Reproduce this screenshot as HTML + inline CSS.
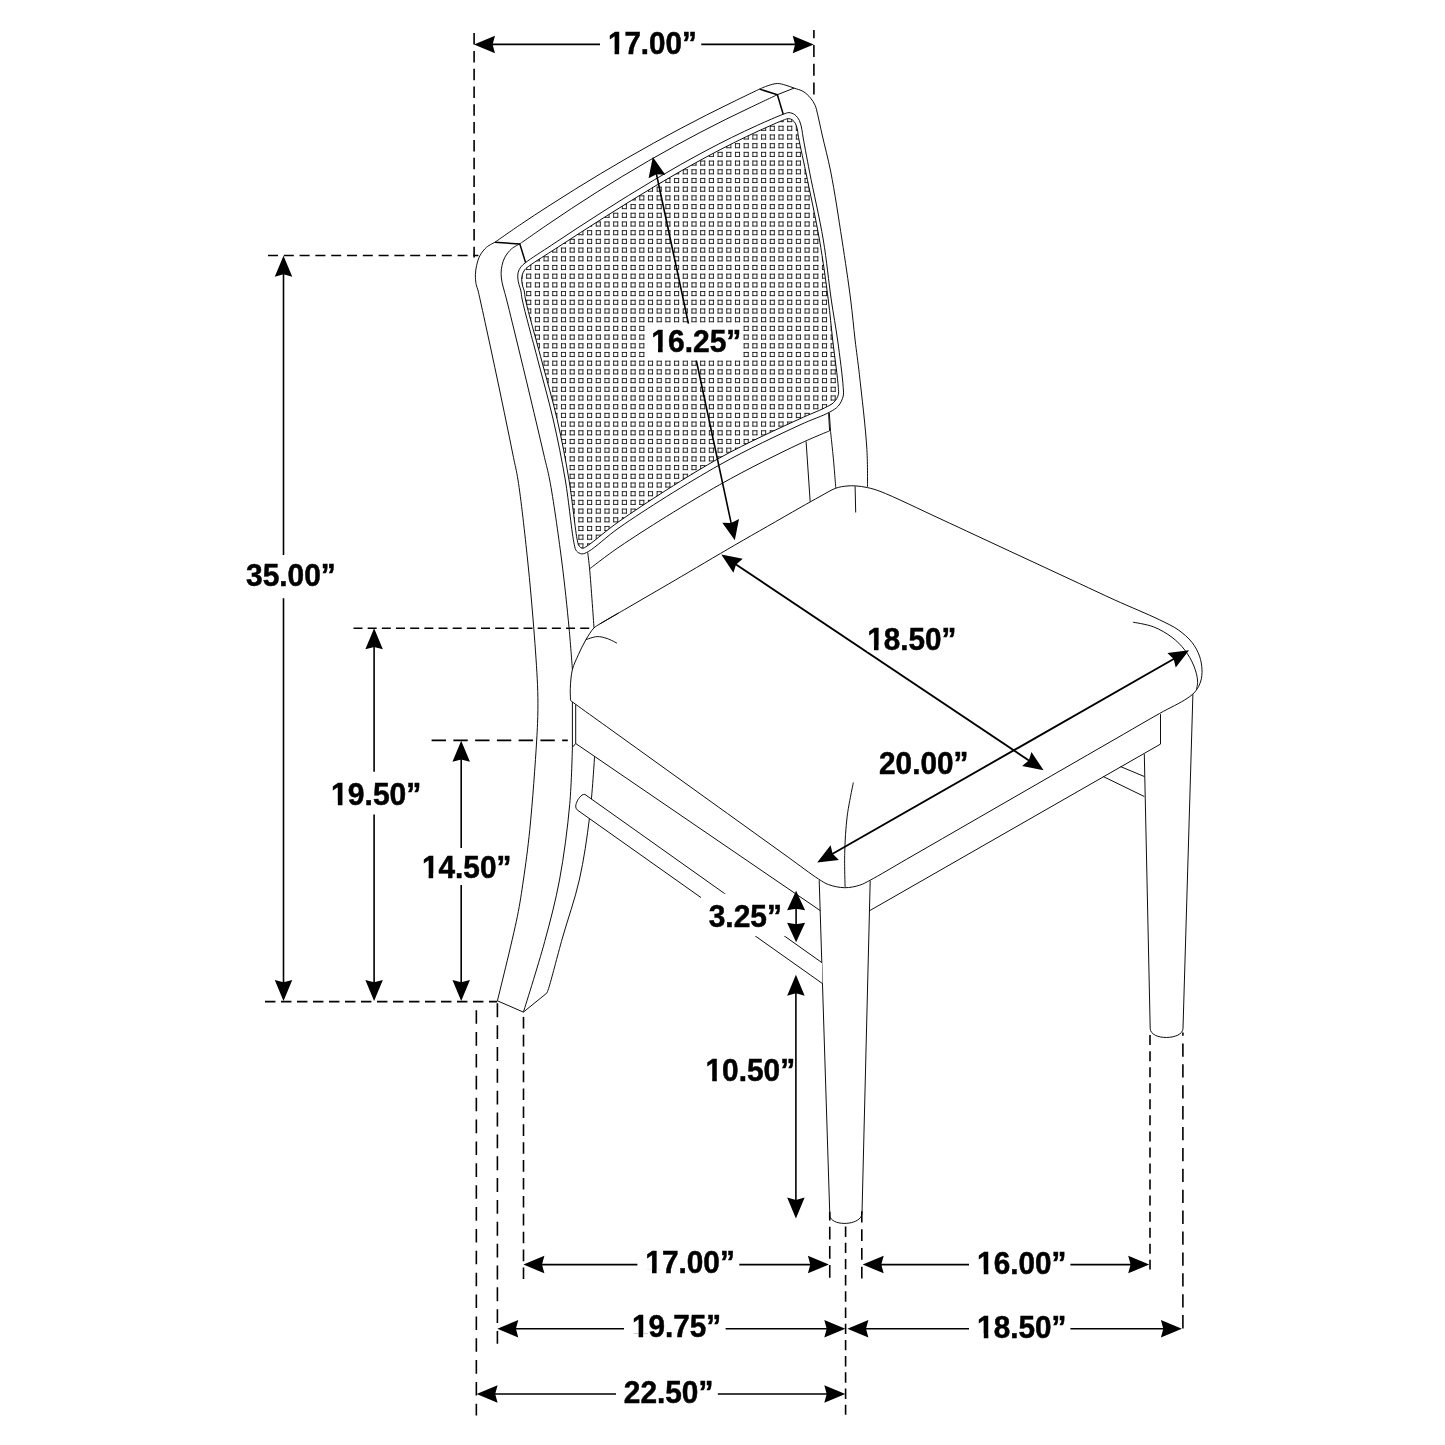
<!DOCTYPE html>
<html><head><meta charset="utf-8"><title>Chair dimensions</title>
<style>html,body{margin:0;padding:0;background:#fff}svg{display:block;will-change:transform}text{font-family:"Liberation Sans",sans-serif;font-weight:bold;fill:#000;stroke:#000;stroke-width:0.5px}</style>
</head><body>
<svg width="1445" height="1445" viewBox="0 0 1445 1445">
<defs>
<clipPath id="caneclip"><path d="M522.7,286.3 C523.06,287.73 523.61,288.44 524,290 C524.63,292.5 524.6,295.3 525.6,300 C528.07,311.63 536.22,340 541.5,360 C546.78,380 552.7,399.93 557.3,420 C561.86,439.93 565.65,459.89 569,480 C572.35,500.15 575.36,531.8 577.4,540.8 C578,543.43 578.08,544.52 579,545.8 C579.82,546.95 581.12,548.19 582.4,548.3 C583.87,548.43 585.1,547.24 587.4,545.8 C593.63,541.9 605.88,530.63 620,520.8 C643.91,504.14 687.8,475.68 719.7,457.9 C747.48,442.42 780.86,427.57 800,418.7 C810.49,413.84 818.43,411.09 824.6,407.9 C828.52,405.87 831.57,404.66 833.9,402.3 C835.98,400.19 837.59,397.4 838.3,394.8 C838.96,392.39 838.51,390.87 838.3,387.3 C837.77,378.31 834.43,355.11 832.7,340 C831.11,326.11 830.18,314.66 828.3,300 C825.99,282 823.08,260.57 819.5,240 C815.67,218.02 809.74,191.33 805.8,172.1 C802.89,157.87 799.04,140.95 798.1,135 C797.81,133.14 797.98,132.74 797.7,131.3 C797.3,129.22 796.66,125.82 795.6,123.8 C794.74,122.15 793.58,120.67 792.3,119.8 C791.17,119.04 789.79,118.62 788.5,118.6 C787.19,118.58 786.38,119.04 784.5,119.7 C779.65,121.41 767.48,126.88 759.03,130.72 C750.5,134.6 742.02,138.68 733.56,142.88 C725.04,147.12 716.55,151.53 708.09,156.04 C699.57,160.59 691.08,165.3 682.62,170.08 C674.1,174.9 665.62,179.85 657.15,184.87 C648.64,189.92 640.15,195.07 631.68,200.28 C623.17,205.5 614.69,210.82 606.21,216.17 C597.71,221.54 589.22,226.97 580.74,232.42 C572.24,237.88 563.76,243.39 555.27,248.9 C546.78,254.42 534.95,261.68 529.8,265.5 C527.42,267.27 526.07,268.09 524.8,269.7 C523.63,271.19 522.81,273 522.3,274.7 C521.82,276.3 521.68,277.84 521.7,279.6 C521.73,281.66 522.23,284.41 522.7,286.3Z"/></clipPath>
</defs>
<rect width="1445" height="1445" fill="#fff"/>
<g clip-path="url(#caneclip)" fill="none" stroke="#151515" stroke-width="0.88">
<path stroke-dasharray="4.98 3.72" d="M508.81,100.15H861.79M508.81,104.25H861.79M508.81,108.85H861.79M508.81,112.95H861.79M508.81,117.55H861.79M508.81,121.65H861.79M508.81,126.25H861.79M508.81,130.35H861.79M508.81,134.95H861.79M508.81,139.05H861.79M508.81,143.65H861.79M508.81,147.75H861.79M508.81,152.35H861.79M508.81,156.45H861.79M508.81,161.05H861.79M508.81,165.15H861.79M508.81,169.75H861.79M508.81,173.85H861.79M508.81,178.45H861.79M508.81,182.55H861.79M508.81,187.15H861.79M508.81,191.25H861.79M508.81,195.85H861.79M508.81,199.95H861.79M508.81,204.55H861.79M508.81,208.65H861.79M508.81,213.25H861.79M508.81,217.35H861.79M508.81,221.95H861.79M508.81,226.05H861.79M508.81,230.65H861.79M508.81,234.75H861.79M508.81,239.35H861.79M508.81,243.45H861.79M508.81,248.05H861.79M508.81,252.15H861.79M508.81,256.75H861.79M508.81,260.85H861.79M508.81,265.45H861.79M508.81,269.55H861.79M508.81,274.15H861.79M508.81,278.25H861.79M508.81,282.85H861.79M508.81,286.95H861.79M508.81,291.55H861.79M508.81,295.65H861.79M508.81,300.25H861.79M508.81,304.35H861.79M508.81,308.95H861.79M508.81,313.05H861.79M508.81,317.65H861.79M508.81,321.75H861.79M508.81,326.35H861.79M508.81,330.45H861.79M508.81,335.05H861.79M508.81,339.15H861.79M508.81,343.75H861.79M508.81,347.85H861.79M508.81,352.45H861.79M508.81,356.55H861.79M508.81,361.15H861.79M508.81,365.25H861.79M508.81,369.85H861.79M508.81,373.95H861.79M508.81,378.55H861.79M508.81,382.65H861.79M508.81,387.25H861.79M508.81,391.35H861.79M508.81,395.95H861.79M508.81,400.05H861.79M508.81,404.65H861.79M508.81,408.75H861.79M508.81,413.35H861.79M508.81,417.45H861.79M508.81,422.05H861.79M508.81,426.15H861.79M508.81,430.75H861.79M508.81,434.85H861.79M508.81,439.45H861.79M508.81,443.55H861.79M508.81,448.15H861.79M508.81,452.25H861.79M508.81,456.85H861.79M508.81,460.95H861.79M508.81,465.55H861.79M508.81,469.65H861.79M508.81,474.25H861.79M508.81,478.35H861.79M508.81,482.95H861.79M508.81,487.05H861.79M508.81,491.65H861.79M508.81,495.75H861.79M508.81,500.35H861.79M508.81,504.45H861.79M508.81,509.05H861.79M508.81,513.15H861.79M508.81,517.75H861.79M508.81,521.85H861.79M508.81,526.45H861.79M508.81,530.55H861.79M508.81,535.15H861.79M508.81,539.25H861.79M508.81,543.85H861.79M508.81,547.95H861.79M508.81,552.55H861.79M508.81,556.65H861.79M508.81,561.25H861.79M508.81,565.35H861.79M508.81,569.95H861.79M508.81,574.05H861.79M508.81,578.65H861.79M508.81,582.75H861.79"/>
<path stroke-dasharray="4.98 3.72" d="M509.25,99.71V583.19M513.35,99.71V583.19M517.95,99.71V583.19M522.05,99.71V583.19M526.65,99.71V583.19M530.75,99.71V583.19M535.35,99.71V583.19M539.45,99.71V583.19M544.05,99.71V583.19M548.15,99.71V583.19M552.75,99.71V583.19M556.85,99.71V583.19M561.45,99.71V583.19M565.55,99.71V583.19M570.15,99.71V583.19M574.25,99.71V583.19M578.85,99.71V583.19M582.95,99.71V583.19M587.55,99.71V583.19M591.65,99.71V583.19M596.25,99.71V583.19M600.35,99.71V583.19M604.95,99.71V583.19M609.05,99.71V583.19M613.65,99.71V583.19M617.75,99.71V583.19M622.35,99.71V583.19M626.45,99.71V583.19M631.05,99.71V583.19M635.15,99.71V583.19M639.75,99.71V583.19M643.85,99.71V583.19M648.45,99.71V583.19M652.55,99.71V583.19M657.15,99.71V583.19M661.25,99.71V583.19M665.85,99.71V583.19M669.95,99.71V583.19M674.55,99.71V583.19M678.65,99.71V583.19M683.25,99.71V583.19M687.35,99.71V583.19M691.95,99.71V583.19M696.05,99.71V583.19M700.65,99.71V583.19M704.75,99.71V583.19M709.35,99.71V583.19M713.45,99.71V583.19M718.05,99.71V583.19M722.15,99.71V583.19M726.75,99.71V583.19M730.85,99.71V583.19M735.45,99.71V583.19M739.55,99.71V583.19M744.15,99.71V583.19M748.25,99.71V583.19M752.85,99.71V583.19M756.95,99.71V583.19M761.55,99.71V583.19M765.65,99.71V583.19M770.25,99.71V583.19M774.35,99.71V583.19M778.95,99.71V583.19M783.05,99.71V583.19M787.65,99.71V583.19M791.75,99.71V583.19M796.35,99.71V583.19M800.45,99.71V583.19M805.05,99.71V583.19M809.15,99.71V583.19M813.75,99.71V583.19M817.85,99.71V583.19M822.45,99.71V583.19M826.55,99.71V583.19M831.15,99.71V583.19M835.25,99.71V583.19M839.85,99.71V583.19M843.95,99.71V583.19M848.55,99.71V583.19M852.65,99.71V583.19M857.25,99.71V583.19M861.35,99.71V583.19"/>
</g>
<g fill="none" stroke="#000" stroke-width="0.95" stroke-linecap="butt" stroke-linejoin="round">
<path d="M494.9,242.3 C494.9,242.3 489.04,245.08 486.6,247.2 C484.04,249.43 481.67,252.45 480,255.5 C478.34,258.55 477.37,262.2 476.6,265.5 C475.88,268.59 475.48,271.57 475.4,274.7 C475.32,277.94 475.66,281.82 476.2,284.6 C476.61,286.7 477.33,287.91 477.9,290 C478.66,292.81 479.3,296 480.2,300 C481.55,306 483.51,315 485.14,322.5 C486.78,330 488.41,337.5 490.03,345 C491.64,352.5 493.25,360 494.84,367.5 C496.44,375 498.02,382.5 499.6,390 C501.17,397.5 502.74,405 504.29,412.5 C505.85,420 507.39,427.5 508.93,435 C510.46,442.5 511.98,450 513.49,457.5 C515.01,465 516.43,470.16 518,480 C520.95,498.44 524.9,534.35 527.6,560 C530.09,583.7 532.1,606.8 533.8,628.5 C535.33,648.12 536.89,669.64 537.5,684.6 C537.91,694.56 538,700.78 537.9,709.5 C537.79,719.15 537.45,727.17 536.7,740 C535.42,762 532.4,803.93 529.8,829.5 C527.84,848.75 525.67,864.53 523.4,880 C521.46,893.23 520.25,902.03 517.3,916.7 C512.8,939.06 497.4,1000.8 497.4,1000.8"/>
<path d="M494.9,242.3 C494.9,242.3 512.5,229.91 521.36,223.92 C530.14,217.99 538.98,212.24 547.82,206.53 C556.62,200.85 565.44,195.26 574.28,189.76 C583.08,184.28 591.9,178.89 600.74,173.59 C609.54,168.31 618.36,163.12 627.2,158.03 C636,152.96 644.82,147.97 653.66,143.08 C662.46,138.21 671.28,133.43 680.12,128.74 C688.92,124.07 697.74,119.5 706.58,115.01 C715.38,110.55 724.21,106.22 733.04,101.89 C741.85,97.58 759.5,89.1 759.5,89.1"/>
<path d="M759.5,89.1 C759.5,89.1 765.22,86.53 768.2,85.6 C771.19,84.66 774.41,83.53 777.4,83.5 C780.23,83.47 782.96,84.44 785.7,85.2 C788.49,85.97 791.17,87.09 794,88.1 C796.97,89.16 800.35,89.76 803.1,91.4 C805.9,93.07 808.54,95.65 810.6,98.1 C812.52,100.38 814.03,102.81 815.2,105.5 C816.43,108.32 816.79,111.02 817.7,114.7 C819.04,120.13 820.44,127.23 822.2,135 C824.59,145.52 827.97,157.83 830.8,172.1 C834.6,191.29 838.6,218.05 842,240 C845.19,260.6 848.41,282 850.7,300 C852.57,314.66 853.6,327.15 855.1,340 C856.5,351.98 857.86,360.93 859.4,374.7 C861.66,394.89 865.7,428.81 866.9,449.5 C867.75,464.12 867.5,487 867.5,487"/>
<path d="M777.4,94.7 L794,88.1"/>
<path d="M519.8,243.9 C519.8,243.9 536.95,231.84 545.56,225.94 C554.12,220.08 562.71,214.29 571.32,208.61 C579.88,202.97 588.47,197.43 597.08,191.99 C605.64,186.58 614.23,181.26 622.84,176.06 C631.4,170.88 639.99,165.8 648.6,160.82 C657.16,155.88 665.75,151.03 674.36,146.29 C682.92,141.57 691.51,136.96 700.12,132.45 C708.68,127.97 717.27,123.58 725.88,119.31 C734.44,115.06 743.04,110.97 751.64,106.87 C760.22,102.77 777.4,94.7 777.4,94.7"/>
<path d="M519.8,243.9 C519.8,243.9 513.94,246.76 511.5,248.9 C508.95,251.14 506.5,254.29 504.9,257.2 C503.44,259.85 502.63,262.7 502,265.5 C501.38,268.23 501.1,271.03 501.1,273.8 C501.1,276.57 501.51,279.38 502,282.1 C502.48,284.78 503.27,287.21 504,290 C504.82,293.14 505.67,295.99 506.7,300 C508.25,305.99 510.41,315 512.25,322.5 C514.09,330 515.92,337.5 517.75,345 C519.57,352.5 521.39,360 523.2,367.5 C525.01,375 526.81,382.5 528.6,390 C530.39,397.5 532.17,405 533.95,412.5 C535.72,420 537.49,427.5 539.25,435 C541.01,442.5 542.76,450 544.5,457.5 C546.24,465 547.83,470.15 549.7,480 C553.2,498.43 558.29,534.34 561.6,560 C564.66,583.69 567.21,608.55 569.1,628.5 C570.56,643.93 572.4,669.6 572.4,669.6"/>
<path d="M519,284.6 C519.47,286.51 520.21,287.9 520.7,290 C521.36,292.8 521.32,295.3 522.3,300 C524.73,311.63 532.63,340 537.8,360 C542.97,380 548.71,399.94 553.3,420 C557.87,439.94 561.84,459.58 565.3,480 C568.87,501.08 571.85,534.34 574.3,544.6 C575.09,547.9 575.18,549.44 576.5,551 C577.75,552.48 579.89,553.76 581.8,553.9 C583.89,554.06 585.67,553.02 588.6,551.4 C595.45,547.61 606.28,536.66 620,527.1 C643.61,510.65 687.85,482.61 719.7,464.8 C747.52,449.25 779.7,434.3 800,424.9 C812.15,419.27 822.69,416.01 829.5,412.2 C833.45,409.99 836.02,408.66 838.3,406 C840.61,403.31 842.43,399.39 843.2,396.1 C843.89,393.16 843.44,391.39 843.2,387.3 C842.64,377.79 839.68,355.09 837.6,340 C835.68,326.09 833.44,314.69 831.3,300 C828.69,282.03 826.74,260.56 823.3,240 C819.62,218.01 813.33,191.35 809.6,172.1 C806.85,157.89 803.84,141.84 802.7,135 C802.27,132.4 802.33,131.62 801.9,129.6 C801.34,126.95 800.71,123.08 799.4,120.5 C798.24,118.21 796.64,116.02 794.8,114.7 C793.12,113.49 790.94,112.66 789,112.6 C787.08,112.54 785.79,113.37 783.2,114.3 C777.63,116.29 765.99,121.45 757.44,125.29 C748.82,129.17 740.23,133.27 731.68,137.48 C723.06,141.73 714.48,146.16 705.92,150.7 C697.3,155.28 688.72,160.01 680.16,164.84 C671.54,169.7 662.96,174.69 654.4,179.77 C645.79,184.88 637.21,190.11 628.64,195.4 C620.03,200.71 611.45,206.13 602.88,211.6 C594.28,217.09 585.69,222.66 577.12,228.26 C568.52,233.88 559.93,239.56 551.36,245.28 C542.76,251.01 530.72,258.52 525.6,262.6 C523.22,264.5 521.96,265.51 520.7,267.2 C519.55,268.74 518.69,270.42 518.2,272.2 C517.7,274.02 517.69,276.01 517.8,278 C517.92,280.14 518.49,282.53 519,284.6Z"/>
<path d="M522.7,286.3 C523.06,287.73 523.61,288.44 524,290 C524.63,292.5 524.6,295.3 525.6,300 C528.07,311.63 536.22,340 541.5,360 C546.78,380 552.7,399.93 557.3,420 C561.86,439.93 565.65,459.89 569,480 C572.35,500.15 575.36,531.8 577.4,540.8 C578,543.43 578.08,544.52 579,545.8 C579.82,546.95 581.12,548.19 582.4,548.3 C583.87,548.43 585.1,547.24 587.4,545.8 C593.63,541.9 605.88,530.63 620,520.8 C643.91,504.14 687.8,475.68 719.7,457.9 C747.48,442.42 780.86,427.57 800,418.7 C810.49,413.84 818.43,411.09 824.6,407.9 C828.52,405.87 831.57,404.66 833.9,402.3 C835.98,400.19 837.59,397.4 838.3,394.8 C838.96,392.39 838.51,390.87 838.3,387.3 C837.77,378.31 834.43,355.11 832.7,340 C831.11,326.11 830.18,314.66 828.3,300 C825.99,282 823.08,260.57 819.5,240 C815.67,218.02 809.74,191.33 805.8,172.1 C802.89,157.87 799.04,140.95 798.1,135 C797.81,133.14 797.98,132.74 797.7,131.3 C797.3,129.22 796.66,125.82 795.6,123.8 C794.74,122.15 793.58,120.67 792.3,119.8 C791.17,119.04 789.79,118.62 788.5,118.6 C787.19,118.58 786.38,119.04 784.5,119.7 C779.65,121.41 767.48,126.88 759.03,130.72 C750.5,134.6 742.02,138.68 733.56,142.88 C725.04,147.12 716.55,151.53 708.09,156.04 C699.57,160.59 691.08,165.3 682.62,170.08 C674.1,174.9 665.62,179.85 657.15,184.87 C648.64,189.92 640.15,195.07 631.68,200.28 C623.17,205.5 614.69,210.82 606.21,216.17 C597.71,221.54 589.22,226.97 580.74,232.42 C572.24,237.88 563.76,243.39 555.27,248.9 C546.78,254.42 534.95,261.68 529.8,265.5 C527.42,267.27 526.07,268.09 524.8,269.7 C523.63,271.19 522.81,273 522.3,274.7 C521.82,276.3 521.68,277.84 521.7,279.6 C521.73,281.66 522.23,284.41 522.7,286.3Z"/>
<path d="M829.3,412.9 L830.5,430.9"/>
<path d="M828.6,413.2 L829.6,430.9"/>
<path d="M830.5,430.9 C830.5,430.9 832.61,450.37 833.5,460 C834.37,469.47 835.8,488.2 835.8,488.2"/>
<path d="M589.6,568.9 C589.6,568.9 606.7,555.41 620,546.4 C643.42,530.53 687.91,502.63 719.7,484.7 C747.58,468.97 779.68,453.16 800,443.6 C812.13,437.89 829.5,430.9 829.5,430.9"/>
<path d="M587.7,552.3 C587.7,552.3 588.92,561.66 589.6,568.9 C590.89,582.52 594,627.9 594,627.9"/>
<path d="M806.1,441.5 L810.2,501.9"/>
<path d="M599.6,624.1 C599.6,624.1 616.44,614.3 624.87,609.4 C633.29,604.5 641.71,599.6 650.13,594.7 C658.56,589.8 665.22,585.95 675.4,580 C691,570.87 717.75,554.98 734.6,545.2 C747.08,537.95 756.4,532.7 767.3,526.45 C778.2,520.2 790.42,513.13 800,507.7 C807.47,503.47 813.7,499.92 820,496.5 C825.56,493.49 830.87,489.94 835.8,488.2 C839.75,486.81 843.49,486.36 847,486 C850.07,485.68 852.59,485.69 855.7,485.9 C859.34,486.14 863.54,486.73 867.5,487.6 C871.64,488.51 874.38,489.2 880,491.3 C892.64,496.03 922.7,510.73 940,518.7 C953.23,524.8 963.31,529.54 974.96,534.96 C986.61,540.38 998.27,545.8 1009.92,551.22 C1021.57,556.64 1033.23,562.06 1044.88,567.48 C1056.53,572.9 1068.19,578.32 1079.84,583.74 C1091.49,589.16 1102.39,594.37 1114.8,600 C1128.8,606.36 1148.06,614.2 1159.7,619.9 C1167.33,623.64 1172.79,625.99 1178.3,629.9 C1183.47,633.56 1188.39,637.81 1192,642.4 C1195.31,646.61 1197.83,651.39 1199.5,656.1 C1201.08,660.54 1201.84,665.45 1202,669.8 C1202.14,673.71 1201.84,677.47 1200.8,681 C1199.77,684.5 1198.05,688.02 1195.8,690.9 C1193.51,693.83 1191,695.7 1187.1,698.4 C1180.68,702.85 1169.44,707.93 1159.7,713.4 C1148.44,719.72 1135.57,727.3 1123.51,734.25 C1111.45,741.2 1099.39,748.15 1087.33,755.1 C1075.26,762.05 1063.2,769 1051.14,775.95 C1039.08,782.9 1027.01,789.85 1014.95,796.8 C1002.89,803.75 990.83,810.7 978.76,817.65 C966.7,824.6 954.64,831.55 942.58,838.5 C930.51,845.45 918.45,852.4 906.39,859.35 C894.33,866.3 878.71,875.73 870.2,880.2 C865.71,882.56 863.61,883.97 859.7,885.2 C855.23,886.61 849.79,887.76 844.7,887.7 C839.4,887.64 833.14,886.29 828.5,884.6 C824.64,883.19 822.64,881.64 818.5,879 C811.02,874.24 798.28,864.46 788.18,857.19 C778.07,849.92 767.96,842.65 757.85,835.38 C747.74,828.1 737.63,820.83 727.52,813.56 C717.42,806.29 707.31,799.02 697.2,791.75 C687.09,784.48 676.98,777.21 666.88,769.94 C656.77,762.67 646.66,755.4 636.55,748.12 C626.44,740.85 616.33,733.58 606.23,726.31 C596.12,719.04 581.85,708.88 575.9,704.5 C573.39,702.65 570.6,700.5 570.6,700.5"/>
<path d="M570.6,700.5 C570.6,700.5 570.1,692.79 570.3,688.3 C570.54,682.72 570.94,675.39 572.4,669.6 C573.75,664.25 576.18,659.63 578.4,654.7 C580.67,649.66 583.18,644.31 585.9,639.7 C588.41,635.44 591.29,630.59 594,627.9 C595.86,626.05 597.15,625.65 599.6,624.1 C604.01,621.31 618.5,613 618.5,613"/>
<path d="M585.9,639.7 C585.9,639.7 593.46,636.75 597.1,636.6 C600.51,636.46 603.84,637.44 607.1,638.5 C610.48,639.6 617,643.2 617,643.2"/>
<path d="M855.1,486.2 L855.7,512.5"/>
<path d="M1132.9,622.2 C1132.9,622.2 1146.9,624.29 1153.4,626.8 C1159.97,629.34 1166.72,633.32 1172.1,637.4 C1176.97,641.09 1181,645.12 1184.6,649.8 C1188.3,654.62 1191.71,660.55 1193.9,666 C1195.89,670.96 1197.37,676.66 1197.6,681 C1197.77,684.27 1196.4,689.7 1196.4,689.7"/>
<path d="M853.4,782.4 C853.4,782.4 848.65,804.54 847.2,816.1 C845.69,828.18 845.03,841.28 844.7,853.4 C844.38,864.91 845.1,887.1 845.1,887.1"/>
<path d="M572.4,702 L572.4,747.3"/>
<path d="M575.7,704.5 L575.7,743.5 L572.4,747.3"/>
<path d="M575.7,743.5 L820.4,910.7"/>
<path d="M869.6,910.7 L1160.5,744.1 L1160.5,714.2"/>
<path d="M819.2,880.2 L829.8,1215"/>
<path d="M870.2,880.8 L862,1213"/>
<path d="M829.8,1215 C830,1227 862,1226 862,1213"/>
<path d="M1192.9,694.3 L1183,1028.4"/>
<path d="M1144.3,754.1 L1150.2,1028.4"/>
<path d="M1150.2,1028.4 C1150.5,1041 1183,1040 1183,1028.4"/>
<path d="M572.4,747.3 C572.4,747.3 571.55,784.23 569.7,804.6 C567.57,828.05 563.95,856.24 559.5,880 C555.44,901.68 550.43,920.46 544.7,941.6 C538.52,964.39 523.4,1012.1 523.4,1012.1"/>
<path d="M594.6,756 C594.6,756 592.11,796.55 589.6,817 C587.04,837.88 583.93,859.56 579.3,880 C574.8,899.9 567.68,919.4 562.4,938.1 C557.49,955.48 551.1,980.8 548.6,988.5 C547.84,990.84 546.9,993 546.9,993"/>
<path d="M497.4,1000.8 L523.4,1012.1 L546.9,993"/>
<path d="M1120.6,766.6 L1144.3,776.5"/>
<path d="M1103.2,776.5 L1144.3,796.5"/>
<g stroke-width="1.5"><path d="M494.9,242.3 L519.8,243.9 L525.6,262.6"/>
<path d="M759.5,89.1 L777.4,94.7 L783.2,114.3"/></g>
<path d="M822,962.7 L584.9,794.4 C582.5,794.2 581.2,795.6 579.9,797.1 C578.2,799 577.4,800.5 576.8,802.1 C576,804 575.6,805.6 575.8,807.1 C576,808.6 576.8,809.6 578,810.5 L822.5,983.6" fill="#fff"/>
</g>
<g fill="none" stroke="#000" stroke-width="1.6" stroke-dasharray="11.5 6.3">
<path d="M474.1,33.1 L474.1,257.5" stroke-dasharray="11.5 6.3" stroke-dashoffset="0"/>
<path d="M813.9,29.9 L813.9,94.4" stroke-dasharray="12 6.7" stroke-dashoffset="3.6"/>
<path d="M268,255.5 L478.4,255.5" stroke-dasharray="10 5.8" stroke-dashoffset="0"/>
<path d="M353.5,628.3 L589.2,628.3" stroke-dasharray="9 5.17" stroke-dashoffset="0"/>
<path d="M431.6,740.4 L567.8,740.4" stroke-dasharray="14.4 7.36" stroke-dashoffset="0"/>
<path d="M265,1001.6 L497.2,1001.6" stroke-dasharray="10.4 5.6" stroke-dashoffset="0"/>
<path d="M476.35,1010.2 L476.35,1415.6" stroke-dasharray="13.6 8.27" stroke-dashoffset="0"/>
<path d="M497.4,1003.3 L497.4,1343.7" stroke-dasharray="13.9 7.95" stroke-dashoffset="0"/>
<path d="M523.5,1016.9 L523.5,1279" stroke-dasharray="11.6 6.3" stroke-dashoffset="0"/>
<path d="M829.75,1211.8 L829.75,1278.1" stroke-dasharray="12.8 6.3" stroke-dashoffset="4.1"/>
<path d="M845.6,1226.5 L845.6,1414.8" stroke-dasharray="10.4 5.8" stroke-dashoffset="0"/>
<path d="M861.8,1211.2 L861.8,1278.5" stroke-dasharray="11.8 6.9" stroke-dashoffset="0.6"/>
<path d="M1150,1035.1 L1150,1269.6" stroke-dasharray="10 6.05" stroke-dashoffset="0"/>
<path d="M1182.9,1032.6 L1182.9,1328.4" stroke-dasharray="13.3 7.6" stroke-dashoffset="10.1"/>
</g>
<rect x="645.8" y="323.3" width="97.2" height="36.9" fill="#fff"/>
<rect x="701" y="893.7" width="86" height="42.4" fill="#fff"/>
<rect x="704" y="1056" width="91" height="34" fill="#fff"/>
<path d="M491.6,44.4 L600,44.4 M701.3,44.4 L796.1,44.4" stroke="#000" stroke-width="1.6" fill="none"/>
<path d="M474,44.4 L495,53.15 L492.6,44.4 L495,35.65Z" fill="#000"/>
<path d="M813.7,44.4 L792.7,35.65 L795.1,44.4 L792.7,53.15Z" fill="#000"/>
<g transform="translate(607.92,53.74) scale(0.9658,1)"><text font-size="30.7">17.00”</text><rect x="0" y="-4.18" width="6.89" height="5.98" fill="#fff"/><rect x="11.61" y="-4.18" width="5.83" height="5.98" fill="#fff"/></g>
<path d="M283.5,273.3 L283.5,555 M283.5,598.2 L283.5,983.3" stroke="#000" stroke-width="1.6" fill="none"/>
<path d="M283.5,255.7 L274.75,276.7 L283.5,274.3 L292.25,276.7Z" fill="#000"/>
<path d="M283.5,1000.9 L292.25,979.9 L283.5,982.3 L274.75,979.9Z" fill="#000"/>
<g transform="translate(246,586.39) scale(0.9750,1)"><text font-size="30.7">35.00”</text></g>
<path d="M374.1,645.9 L374.1,771.7 M374.1,814.4 L374.1,983.3" stroke="#000" stroke-width="1.6" fill="none"/>
<path d="M374.1,628.3 L365.35,649.3 L374.1,646.9 L382.85,649.3Z" fill="#000"/>
<path d="M374.1,1000.9 L382.85,979.9 L374.1,982.3 L365.35,979.9Z" fill="#000"/>
<g transform="translate(331.09,805.24) scale(0.9800,1)"><text font-size="30.7">19.50”</text><rect x="0" y="-4.18" width="6.89" height="5.98" fill="#fff"/><rect x="11.61" y="-4.18" width="5.83" height="5.98" fill="#fff"/></g>
<path d="M461.2,758.4 L461.2,848 M461.2,885 L461.2,983.3" stroke="#000" stroke-width="1.6" fill="none"/>
<path d="M461.2,740.8 L452.45,761.8 L461.2,759.4 L469.95,761.8Z" fill="#000"/>
<path d="M461.2,1000.9 L469.95,979.9 L461.2,982.3 L452.45,979.9Z" fill="#000"/>
<g transform="translate(421.91,877.59) scale(0.9710,1)"><text font-size="30.7">14.50”</text><rect x="0" y="-4.18" width="6.89" height="5.98" fill="#fff"/><rect x="11.61" y="-4.18" width="5.83" height="5.98" fill="#fff"/></g>
<path d="M796.1,907.8 L796.1,925.3" stroke="#000" stroke-width="1.6" fill="none"/>
<path d="M796.1,890.8 L787.1,910.3 L796.1,908.8 L805.1,910.3Z" fill="#000"/>
<path d="M796.1,942.3 L805.1,922.8 L796.1,924.3 L787.1,922.8Z" fill="#000"/>
<g transform="translate(708.7,927.09) scale(0.9758,1)"><text font-size="30.7">3.25”</text></g>
<path d="M795.9,992.3 L795.9,1200.9" stroke="#000" stroke-width="1.6" fill="none"/>
<path d="M795.9,974.7 L787.15,995.7 L795.9,993.3 L804.65,995.7Z" fill="#000"/>
<path d="M795.9,1218.5 L804.65,1197.5 L795.9,1199.9 L787.15,1197.5Z" fill="#000"/>
<g transform="translate(705.51,1081.09) scale(0.9727,1)"><text font-size="30.7">10.50”</text><rect x="0" y="-4.18" width="6.89" height="5.98" fill="#fff"/><rect x="11.61" y="-4.18" width="5.83" height="5.98" fill="#fff"/></g>
<path d="M541,1264.6 L637.4,1264.6 M739.3,1264.6 L811.3,1264.6" stroke="#000" stroke-width="1.6" fill="none"/>
<path d="M523.4,1264.6 L544.4,1273.35 L542,1264.6 L544.4,1255.85Z" fill="#000"/>
<path d="M828.9,1264.6 L807.9,1255.85 L810.3,1264.6 L807.9,1273.35Z" fill="#000"/>
<g transform="translate(645.31,1273.29) scale(0.9715,1)"><text font-size="30.7">17.00”</text><rect x="0" y="-4.18" width="6.89" height="5.98" fill="#fff"/><rect x="11.61" y="-4.18" width="5.83" height="5.98" fill="#fff"/></g>
<path d="M880.3,1264.6 L969,1264.6 M1070.4,1264.6 L1131.6,1264.6" stroke="#000" stroke-width="1.6" fill="none"/>
<path d="M862.7,1264.6 L883.7,1273.35 L881.3,1264.6 L883.7,1255.85Z" fill="#000"/>
<path d="M1149.2,1264.6 L1128.2,1255.85 L1130.6,1264.6 L1128.2,1273.35Z" fill="#000"/>
<g transform="translate(977.12,1273.74) scale(0.9681,1)"><text font-size="30.7">16.00”</text><rect x="0" y="-4.18" width="6.89" height="5.98" fill="#fff"/><rect x="11.61" y="-4.18" width="5.83" height="5.98" fill="#fff"/></g>
<path d="M514.9,1328.8 L624,1328.8 M725.6,1328.8 L827.7,1328.8" stroke="#000" stroke-width="1.6" fill="none"/>
<path d="M497.3,1328.8 L518.3,1337.55 L515.9,1328.8 L518.3,1320.05Z" fill="#000"/>
<path d="M845.3,1328.8 L824.3,1320.05 L826.7,1328.8 L824.3,1337.55Z" fill="#000"/>
<g transform="translate(631.92,1337.49) scale(0.9681,1)"><text font-size="30.7">19.75”</text><rect x="0" y="-4.18" width="6.89" height="5.98" fill="#fff"/><rect x="11.61" y="-4.18" width="5.83" height="5.98" fill="#fff"/></g>
<path d="M865,1328.8 L969,1328.8 M1070.4,1328.8 L1164.3,1328.8" stroke="#000" stroke-width="1.6" fill="none"/>
<path d="M847.4,1328.8 L868.4,1337.55 L866,1328.8 L868.4,1320.05Z" fill="#000"/>
<path d="M1181.9,1328.8 L1160.9,1320.05 L1163.3,1328.8 L1160.9,1337.55Z" fill="#000"/>
<g transform="translate(977.12,1337.79) scale(0.9681,1)"><text font-size="30.7">18.50”</text><rect x="0" y="-4.18" width="6.89" height="5.98" fill="#fff"/><rect x="11.61" y="-4.18" width="5.83" height="5.98" fill="#fff"/></g>
<path d="M494.2,1394 L616,1394 M717.8,1394 L827.7,1394" stroke="#000" stroke-width="1.6" fill="none"/>
<path d="M476.6,1394 L497.6,1402.75 L495.2,1394 L497.6,1385.25Z" fill="#000"/>
<path d="M845.3,1394 L824.3,1385.25 L826.7,1394 L824.3,1402.75Z" fill="#000"/>
<g transform="translate(623.81,1402.89) scale(0.9716,1)"><text font-size="30.7">22.50”</text></g>
<path d="M656.25,173.23 L688.46,323.7 M696.36,360.6 L731.35,524.07" stroke="#000" stroke-width="1.6" fill="none"/>
<path d="M652.8,157.1 L648.58,178.25 L656.46,174.21 L665.3,174.67Z" fill="#000"/>
<path d="M734.8,540.2 L739.02,519.05 L731.14,523.09 L722.3,522.63Z" fill="#000"/>
<g transform="translate(651.3,351.64) scale(0.9772,1)"><text font-size="30.7">16.25”</text><rect x="0" y="-4.18" width="6.89" height="5.98" fill="#fff"/><rect x="11.61" y="-4.18" width="5.83" height="5.98" fill="#fff"/></g>
<path d="M735.26,563.94 L1029.64,760.96" stroke="#000" stroke-width="1.85" fill="none"/>
<path d="M721.3,554.6 L733.42,572.82 L736.09,564.5 L742.76,558.85Z" fill="#000"/>
<path d="M1043.6,770.3 L1031.48,752.08 L1028.81,760.4 L1022.14,766.05Z" fill="#000"/>
<g transform="translate(867.32,649.74) scale(0.9670,1)"><text font-size="30.7">18.50”</text><rect x="0" y="-4.18" width="6.89" height="5.98" fill="#fff"/><rect x="11.61" y="-4.18" width="5.83" height="5.98" fill="#fff"/></g>
<path d="M831.79,854.27 L1174.51,658.53" stroke="#000" stroke-width="1.85" fill="none"/>
<path d="M817.2,862.6 L838.91,859.88 L832.66,853.77 L830.57,845.29Z" fill="#000"/>
<path d="M1189.1,650.2 L1167.39,652.92 L1173.64,659.03 L1175.73,667.51Z" fill="#000"/>
<g transform="translate(879.06,773.74) scale(0.9699,1)"><text font-size="30.7">20.00”</text></g>
</svg>
</body></html>
